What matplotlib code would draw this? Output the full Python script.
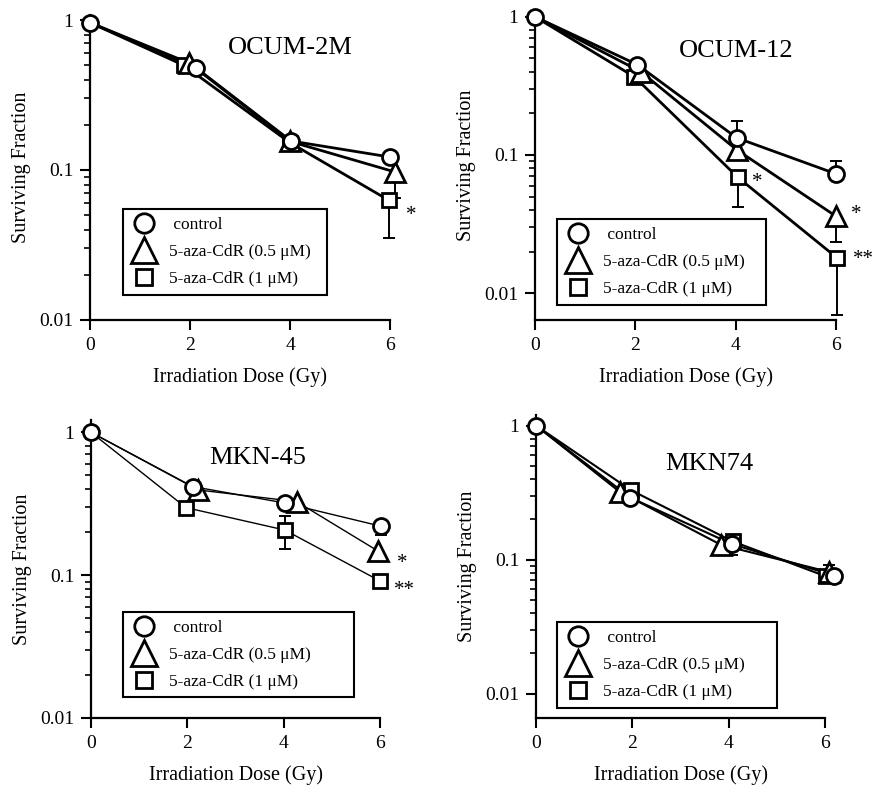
import numpy as np
import matplotlib.pyplot as plt
from matplotlib.lines import Line2D
from matplotlib.ticker import FixedLocator, NullFormatter

plt.rcParams['font.family'] = ['Liberation Serif', 'DejaVu Serif']

nan = np.nan

# legend labels and cell lines
series_labels = [" control", "5-aza-CdR (0.5 \u03bcM)", "5-aza-CdR (1 \u03bcM)"]
panel_names = ["OCUM-2M", "OCUM-12", "MKN-45", "MKN74"]

# series order: control, 0.5 uM, 1 uM
ocum2m_dose = [[0, 2.12, 4.02, 6.0], [0, 1.98, 4.0, 6.1], [0, 1.87, 4.0, 5.97]]
ocum2m_sf = [[0.96, 0.48, 0.156, 0.122], [0.96, 0.517, 0.155, 0.097], [0.96, 0.50, 0.152, 0.063]]
ocum2m_lo = [[nan] * 4, [nan, nan, nan, 0.065], [nan, nan, nan, 0.035]]
ocum2m_hi = [[nan] * 4, [nan] * 4, [nan] * 4]
ocum2m_stars = [(6.42, 0.050, "*")]

ocum12_dose = [[0, 2.04, 4.02, 6.0], [0, 2.11, 4.02, 6.0], [0, 1.98, 4.04, 6.02]]
ocum12_sf = [[1.0, 0.45, 0.133, 0.073], [1.0, 0.40, 0.109, 0.036], [1.0, 0.368, 0.069, 0.018]]
ocum12_lo = [[nan] * 4, [nan, nan, nan, 0.0236], [nan, nan, 0.042, 0.0070]]
ocum12_hi = [[nan, nan, 0.177, 0.091], [nan] * 4, [nan] * 4]
ocum12_stars = [(4.42, 0.063, "*"), (6.41, 0.037, "*"), (6.55, 0.0175, "**")]

mkn45_dose = [[0, 2.11, 4.02, 6.02], [0, 2.22, 4.27, 5.95], [0, 1.97, 4.02, 6.0]]
mkn45_sf = [[1.0, 0.417, 0.32, 0.22], [1.0, 0.395, 0.327, 0.148], [1.0, 0.297, 0.207, 0.091]]
mkn45_lo = [[nan, nan, nan, 0.19], [nan] * 4, [nan, nan, 0.153, nan]]
mkn45_hi = [[nan] * 4, [nan] * 4, [nan, nan, 0.26, nan]]
mkn45_stars = [(6.47, 0.120, "*"), (6.51, 0.078, "**")]

mkn74_dose = [[0, 1.96, 4.06, 6.19], [0, 1.74, 3.84, 6.08], [0, 1.97, 4.08, 6.02]]
mkn74_sf = [[1.0, 0.29, 0.131, 0.076], [1.0, 0.32, 0.129, 0.081], [1.0, 0.33, 0.137, 0.075]]
mkn74_lo = [[nan, nan, 0.108, nan], [nan] * 4, [nan] * 4]
mkn74_hi = [[nan] * 4, [nan, nan, nan, 0.091], [nan] * 4]
mkn74_stars = []

panel_data = [
    (ocum2m_dose, ocum2m_sf, ocum2m_lo, ocum2m_hi, ocum2m_stars),
    (ocum12_dose, ocum12_sf, ocum12_lo, ocum12_hi, ocum12_stars),
    (mkn45_dose, mkn45_sf, mkn45_lo, mkn45_hi, mkn45_stars),
    (mkn74_dose, mkn74_sf, mkn74_lo, mkn74_hi, mkn74_stars),
]

# layout: axes rect, ylim, title position, legend (x0, top, width), line width
layout = [
    dict(rect=[0.1014, 0.5924, 0.3378, 0.3885], ylim=(0.01, 1.08), title=(4.0, 0.65),
         leg=(0.11, 0.364, 0.68), lw=2.0),
    dict(rect=[0.6025, 0.5924, 0.3390, 0.3949], ylim=(0.0064, 1.12), title=(4.0, 0.57),
         leg=(0.073, 0.326, 0.694), lw=2.0),
    dict(rect=[0.1025, 0.0854, 0.3255, 0.3796], ylim=(0.01, 1.22), title=(3.45, 0.66),
         leg=(0.111, 0.356, 0.80), lw=1.0),
    dict(rect=[0.6036, 0.0854, 0.3255, 0.3860], ylim=(0.0066, 1.2), title=(3.6, 0.52),
         leg=(0.073, 0.317, 0.761), lw=1.5),
]

markers = ['o', '^', 's']
data_ms = [11.5, 15.0, 10.5]
leg_ms = [14.0, 18.5, 12.0]

fig = plt.figure(figsize=(8.88, 7.85), dpi=100)

for name, (dose, sf, lo, hi, stars), lay in zip(panel_names, panel_data, layout):
    ax = fig.add_axes(lay['rect'])
    ax.set_yscale('log')
    ax.set_xlim(0, 6)
    ax.set_ylim(*lay['ylim'])

    # lines first, then error bars, then markers on top
    for i in range(3):
        ax.plot(dose[i], sf[i], '-', color='k', lw=lay['lw'], zorder=2, clip_on=False)
    for i in range(3):
        for x, y, l, h in zip(dose[i], sf[i], lo[i], hi[i]):
            for end in (l, h):
                if not np.isnan(end):
                    ax.plot([x, x], [y, end], color='k', lw=1.4, zorder=2.5, clip_on=False)
                    ax.plot([x], [end], marker='_', ms=9, mew=1.4, color='k', zorder=2.5,
                            clip_on=False)
    for i in [2, 1, 0]:
        # at dose 0 all series share the control point, only the circle shows
        start = 0 if i == 0 else 1
        ax.plot(dose[i][start:], sf[i][start:], ls='none', marker=markers[i], ms=data_ms[i],
                mfc='white', mec='k', mew=2.0, zorder=3 + (2 - i), clip_on=False)

    for sx, sy, s in stars:
        ax.text(sx, sy, s, fontsize=15, ha='center', va='center')

    ax.text(lay['title'][0], lay['title'][1], name, fontsize=19, ha='center', va='center')

    for side in ['top', 'right']:
        ax.spines[side].set_visible(False)
    for side in ['left', 'bottom']:
        ax.spines[side].set_linewidth(1.6)

    ax.set_xticks([0, 2, 4, 6])
    ax.set_yticks([0.01, 0.1, 1])
    ax.set_yticklabels(['0.01', '0.1', '1'])
    minors = [k * 10.0 ** e for e in (-2, -1) for k in range(2, 10)]
    ax.yaxis.set_minor_locator(FixedLocator(minors))
    ax.yaxis.set_minor_formatter(NullFormatter())
    ax.tick_params(which='major', direction='out', length=7, width=1.5, labelsize=14, pad=5)
    ax.tick_params(which='minor', direction='out', length=4, width=1.2)

    ax.set_xlabel("Irradiation Dose (Gy)", fontsize=14.5, labelpad=10)
    ax.set_ylabel("Surviving Fraction", fontsize=14.5, labelpad=6)

    handles = [Line2D([], [], ls='none', marker=markers[i], ms=leg_ms[i], mfc='white',
                      mec='k', mew=2.0) for i in range(3)]
    x0, top, w = lay['leg']
    leg = ax.legend(handles, series_labels, loc='upper left', bbox_to_anchor=(x0, top, w, 0),
                    mode='expand', borderaxespad=0, borderpad=0.45, handlelength=1.5,
                    handletextpad=0.7, labelspacing=0.62, fontsize=12.5, frameon=True,
                    fancybox=False, framealpha=1, edgecolor='k')
    leg.get_frame().set_linewidth(1.5)

fig.savefig("out.png", dpi=100)
